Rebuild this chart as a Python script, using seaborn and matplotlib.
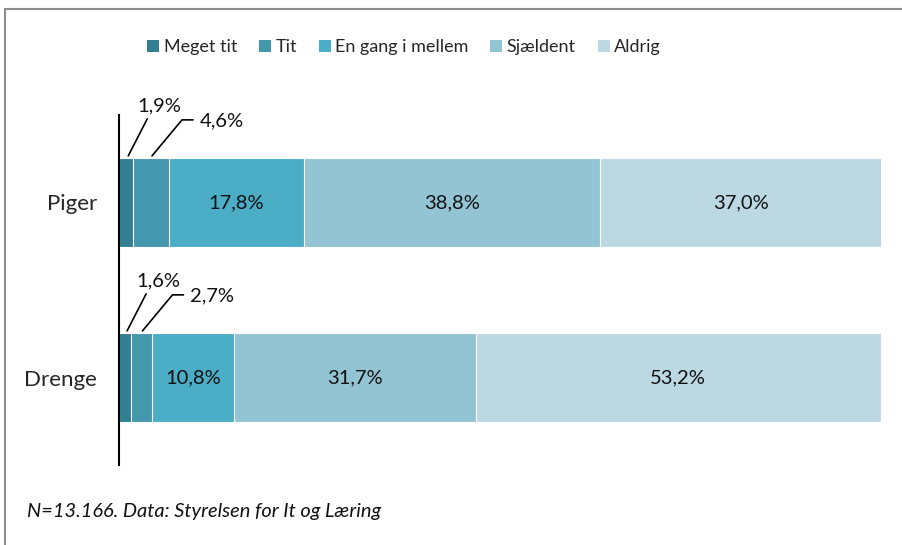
import matplotlib
matplotlib.use("Agg")
import matplotlib.pyplot as plt
import matplotlib.patches as mpatches
import numpy as np
import pandas as pd
import seaborn as sns

# data
groups = ["Piger", "Drenge"]
categories = ["Meget tit", "Tit", "En gang i mellem", "Sjældent", "Aldrig"]
piger = [1.9, 4.6, 17.8, 38.8, 37.0]
drenge = [1.6, 2.7, 10.8, 31.7, 53.2]
colors = ["#327f93", "#4398ae", "#4badc6", "#93c4d4", "#bcd8e3"]
note = "N=13.166. Data: Styrelsen for It og Læring"

sns.set_style("white")
plt.rcParams["font.family"] = ["Lato", "DejaVu Sans"]

W, H = 903, 545
fig = plt.figure(figsize=(W / 100, H / 100), dpi=100)
ax_left, ax_right, ax_top, ax_bot = 119, 881, 115, 465
ax = fig.add_axes([ax_left / W, 1 - ax_bot / H, (ax_right - ax_left) / W, (ax_bot - ax_top) / H])

vals = np.array([piger, drenge])
cum = vals.cumsum(axis=1)

# stacked bars: draw cumulative totals from the largest down
for i in range(len(categories) - 1, -1, -1):
    df = pd.DataFrame({"group": groups, "value": cum[:, i]})
    sns.barplot(data=df, x="value", y="group", orient="h", color=colors[i],
                width=0.51, edgecolor="white", linewidth=0.8, ax=ax,
                saturation=1, legend=False)

ax.set_xlim(0, 100)
ax.set_ylim(1.5, -0.5)
ax.set_xlabel("")
ax.set_ylabel("")
ax.set_xticks([])
ax.tick_params(axis="y", length=0, pad=16, labelsize=16)
for s in ["top", "right", "bottom"]:
    ax.spines[s].set_visible(False)
ax.spines["left"].set_color("black")
ax.spines["left"].set_linewidth(1.5)

# pixel -> data helpers for the offsets of the outside labels
px_x = 100 / (ax_right - ax_left)
px_y = 2 / (ax_bot - ax_top)
bar_top = -0.51 / 2

for gi in range(len(groups)):
    starts = cum[gi] - vals[gi]
    centers = starts + vals[gi] / 2
    for ci in range(len(categories)):
        if vals[gi, ci] >= 5:
            ax.text(centers[ci], gi, f"{vals[gi, ci]:.1f}%".replace(".", ","),
                    ha="center", va="center", fontsize=14.5, color="#111111")
    # small segments: labels outside with leader lines
    y0 = gi + bar_top - 2 * px_y
    # first segment: straight leader
    c0 = centers[0] + 2 * px_x
    ax.plot([c0, c0 + 19 * px_x], [y0, y0 - 37 * px_y], color="black", lw=1.2, clip_on=False)
    ax.text(c0 + 31 * px_x, y0 - 50 * px_y,
            f"{vals[gi, 0]:.1f}%".replace(".", ","),
            ha="center", va="center", fontsize=14.5, color="#111111")
    # second segment: leader with a shoulder
    c1 = centers[1] + 1 * px_x
    ex, ey = c1 + 30 * px_x, y0 - 36 * px_y
    ax.plot([c1, ex, ex + 11 * px_x], [y0, ey, ey], color="black", lw=1.2, clip_on=False)
    ax.text(ex + 18 * px_x, ey + 1 * px_y,
            f"{vals[gi, 1]:.1f}%".replace(".", ","),
            ha="left", va="center", fontsize=14.5, color="#111111")

# legend in category order
handles = [mpatches.Patch(facecolor=c, edgecolor="none") for c in colors]
fig.legend(handles, categories, loc="center", bbox_to_anchor=(404 / W, 1 - 47 / H),
           ncol=5, frameon=False, fontsize=13, handlelength=0.67, handleheight=0.67,
           handletextpad=0.25, columnspacing=1.2, borderpad=0)

fig.text(27 / W, 1 - 512 / H, note, style="italic", fontsize=14.4,
         ha="left", va="center", color="#111111")

# grey chart frame (continues past the right and bottom edges)
fig.patches.append(mpatches.Rectangle((5 / W, -0.1), 1.2, 1 - 9 / H + 0.1,
                                      transform=fig.transFigure, fill=False,
                                      edgecolor="#8c8c8c", linewidth=1.5))

fig.savefig("out.png", dpi=100)
